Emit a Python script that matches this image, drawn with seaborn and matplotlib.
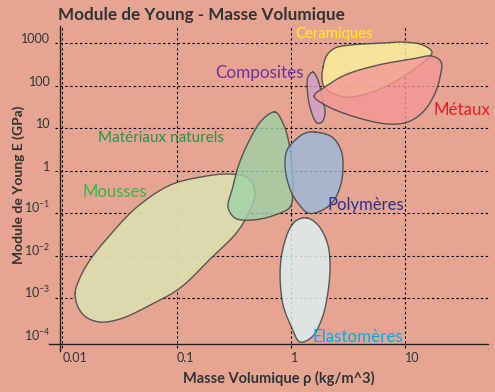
import numpy as np
import matplotlib
matplotlib.use("Agg")
import matplotlib.pyplot as plt
import seaborn as sns

# material families: outline points (density, Young modulus GPa)
mousses_rho = [0.0129, 0.01368, 0.01607, 0.02133, 0.0319, 0.0586, 0.1074, 0.197, 0.34, 0.4416,
               0.4887, 0.4236, 0.294, 0.161, 0.0877, 0.045, 0.0261, 0.0174, 0.01395]
mousses_E = [1.33e-3, 6.24e-4, 3.63e-4, 2.77e-4, 3.26e-4, 6.9e-4, 1.75e-3, 8.4e-3, 0.0363, 0.1197,
             0.317, 0.678, 0.84, 0.71, 0.46, 0.1406, 0.0308, 7.96e-3, 2.7e-3]

naturels_rho = [0.731, 0.859, 0.97, 1.03, 1.05, 0.99, 0.73, 0.46, 0.326, 0.283, 0.307, 0.346, 0.424, 0.562]
naturels_E = [24.2, 13.3, 4.5, 1.23, 0.30, 0.14, 0.091, 0.0695, 0.0775, 0.14, 0.353, 1.23, 4.5, 15.7]

polymeres_rho = [1.64, 2.31, 2.77, 2.89, 2.72, 2.31, 1.74, 1.42, 1.16, 0.99, 0.895, 0.932, 1.10, 1.34]
polymeres_E = [8.2, 6.24, 3.08, 1.23, 0.415, 0.175, 0.107, 0.102, 0.175, 0.37, 1.23, 3.08, 5.3, 7.7]

elastomeres_rho = [1.40, 1.74, 2.09, 2.22, 2.13, 1.89, 1.54, 1.21, 1.03, 0.86, 0.81, 0.86, 0.99, 1.14]
elastomeres_E = [0.0775, 0.0531, 0.0211, 7.1e-3, 1.4e-3, 3.4e-4, 1.23e-4, 9.4e-5, 2.0e-4, 7.0e-4, 4.2e-3, 0.0153, 0.045, 0.0695]

composites_rho = [1.57, 1.74, 1.89, 2.01, 1.89, 1.71, 1.48, 1.40, 1.42]
composites_E = [211, 137, 54.5, 24.2, 14.1, 13.3, 31.7, 94, 161]

ceramiques_rho = [1.93, 2.09, 2.45, 3.33, 6.47, 9.7, 14.5, 17.4, 16.1, 11.2, 5.86, 3.0, 2.01, 1.89]
ceramiques_E = [277, 530, 774, 912, 1016, 1073, 912, 624, 451, 211, 80, 54.5, 89, 137]

metaux_rho = [1.61, 2.01, 3.0, 5.86, 11.6, 17.4, 20.9, 20.5, 18.2, 14.5, 10.7, 7.2, 3.68, 2.01]
metaux_E = [57.5, 94, 179, 308, 428, 502, 363, 161, 60.8, 24.2, 14.1, 12.6, 18.5, 35.3]

x_ticks = [0.01, 0.1, 1, 10]
x_ticklabels = ["0.01", "0.1", "1", "10"]
y_ticks = [1000, 100, 10, 1, 0.1, 0.01, 0.001, 0.0001]
y_ticklabels = ["1000", "100", "10", "1", r"$\mathregular{10^{-1}}$", r"$\mathregular{10^{-2}}$",
                r"$\mathregular{10^{-3}}$", r"$\mathregular{10^{-4}}$"]

bg = "#E5A592"
YSCALE = 42.5 / 114.0  # a decade of E is shorter than a decade of rho on the page


def smooth_closed(xs, ys, n=24):
    # closed centripetal Catmull-Rom curve through the points (log space)
    P = np.column_stack([np.log10(xs), np.log10(ys) * YSCALE])
    N = len(P)
    segs = []
    for i in range(N):
        p0, p1, p2, p3 = P[i - 1], P[i], P[(i + 1) % N], P[(i + 2) % N]
        t0 = 0.0
        t1 = t0 + np.linalg.norm(p1 - p0) ** 0.5
        t2 = t1 + np.linalg.norm(p2 - p1) ** 0.5
        t3 = t2 + np.linalg.norm(p3 - p2) ** 0.5
        t = np.linspace(t1, t2, n, endpoint=False)[:, None]
        a1 = (t1 - t) / (t1 - t0) * p0 + (t - t0) / (t1 - t0) * p1
        a2 = (t2 - t) / (t2 - t1) * p1 + (t - t1) / (t2 - t1) * p2
        a3 = (t3 - t) / (t3 - t2) * p2 + (t - t2) / (t3 - t2) * p3
        b1 = (t2 - t) / (t2 - t0) * a1 + (t - t0) / (t2 - t0) * a2
        b2 = (t3 - t) / (t3 - t1) * a2 + (t - t1) / (t3 - t1) * a3
        segs.append((t2 - t) / (t2 - t1) * b1 + (t - t1) / (t2 - t1) * b2)
    out = np.vstack(segs)
    out = np.vstack([out, out[:1]])
    return 10 ** out[:, 0], 10 ** (out[:, 1] / YSCALE)


sns.set_theme(style="ticks")
plt.rcParams["font.family"] = ["Lato", "DejaVu Sans"]
plt.rcParams["mathtext.fontset"] = "custom"
plt.rcParams["mathtext.rm"] = "Lato"

fig = plt.figure(figsize=(4.95, 3.92), dpi=100, facecolor=bg)
ax = fig.add_axes([0.1212, 0.1224, 0.8646, 0.8112])
ax.set_facecolor(bg)
ax.set_xscale("log")
ax.set_yscale("log")
ax.set_xlim(0.00951, 53.9)
ax.set_ylim(8.41e-5, 2553)

for v in x_ticks:
    ax.axvline(v, ymin=-0.012, ymax=1, color="black", lw=0.8, ls=(0, (2.2, 2.2)), clip_on=False, zorder=1)
for v in y_ticks[:-1]:
    ax.axhline(v, xmin=-0.012, xmax=1.005, color="black", lw=0.8, ls=(0, (2.2, 2.2)), clip_on=False, zorder=1)

shapes = [
    (mousses_rho, mousses_E, "#DEDDAE", 0.95),
    (naturels_rho, naturels_E, "#9ED2A8", 0.8),
    (polymeres_rho, polymeres_E, "#9CB8D9", 0.8),
    (elastomeres_rho, elastomeres_E, "#DCF0F0", 0.85),
    (composites_rho, composites_E, "#D09FCC", 0.8),
    (ceramiques_rho, ceramiques_E, "#FCF29D", 0.8),
    (metaux_rho, metaux_E, "#F59797", 0.8),
]
for k, (xs, ys, col, a) in enumerate(shapes):
    cx, cy = smooth_closed(xs, ys)
    ax.fill(cx, cy, color=col, alpha=a, lw=0, zorder=3 + 2 * k)
    sns.lineplot(x=cx, y=cy, sort=False, estimator=None, color="#4A4A4A", lw=1.0, alpha=0.9,
                 ax=ax, zorder=4 + 2 * k)

labels = [
    ("Ceramiques", 1.09, 1650, "#FFF200", 10.7),
    ("Composites", 0.218, 200, "#7030A0", 12.3),
    ("Métaux", 17.8, 27, "#ED1C24", 12.2),
    ("Matériaux naturels", 0.0205, 5.9, "#1E9A46", 11),
    ("Mousses", 0.0151, 0.317, "#39B54A", 12),
    ("Polymères", 2.13, 0.157, "#2E3192", 12),
    ("Elastomères", 1.57, 1.23e-4, "#00AEEF", 12.2),
]
for txt, x, y, c, fs in labels:
    ax.text(x, y, txt, color=c, fontsize=fs, ha="left", va="center", zorder=30)

ax.set_xticks(x_ticks)
ax.set_xticklabels(x_ticklabels)
ax.set_yticks(y_ticks)
ax.set_yticklabels(y_ticklabels)
ax.minorticks_off()
ax.tick_params(axis="both", length=0, labelsize=9, labelcolor="#333333")
ax.tick_params(axis="x", pad=6)
ax.tick_params(axis="y", pad=7)
for lab in ax.get_xticklabels():
    lab.set_ha("left")
for lab in ax.get_yticklabels():
    lab.set_va("baseline")

for s in ["top", "right"]:
    ax.spines[s].set_visible(False)
ax.spines["left"].set_bounds(5.9e-5, 2553)
ax.spines["bottom"].set_bounds(0.0076, 53.9)
for s in ["left", "bottom"]:
    ax.spines[s].set_color("#222222")
    ax.spines[s].set_linewidth(1.0)

ax.set_xlabel("Masse Volumique ρ (kg/m^3)", fontsize=10.5, fontweight="bold", color="#333333")
ax.set_ylabel("Module de Young E (GPa)", fontsize=10, fontweight="bold", color="#333333")
ax.xaxis.set_label_coords(0.512, -0.085)
ax.yaxis.set_label_coords(-0.082, 0.5)
fig.text(0.117, 0.962, "Module de Young - Masse Volumique", fontsize=12.3, fontweight="bold",
         color="#333333", ha="left", va="center")

fig.savefig("out.png", dpi=100, facecolor=bg)
